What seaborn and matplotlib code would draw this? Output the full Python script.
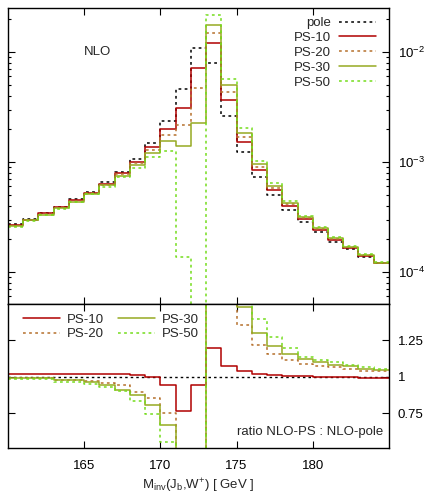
import numpy as np
import pandas as pd
import seaborn as sns
import matplotlib
matplotlib.use("Agg")
from matplotlib import pyplot as plt
from matplotlib.ticker import FixedLocator, FuncFormatter

## DATA ##
# bin edges of M_inv(J_b, W+) in GeV, 1 GeV bins
edges = np.arange(160, 186, 1)

# top panel: NLO distributions
pole = [2.72e-4, 3.05e-4, 3.46e-4, 3.93e-4, 4.58e-4, 5.37e-4, 6.53e-4, 8.16e-4,
        1.07e-3, 1.50e-3, 2.37e-3, 4.61e-3, 1.08e-2, 7.9e-3, 2.63e-3, 1.24e-3,
        7.36e-4, 5.0e-4, 3.66e-4, 2.87e-4, 2.30e-4, 1.89e-4, 1.61e-4, 1.37e-4, 1.20e-4]
ps10 = [2.66e-4, 3.00e-4, 3.42e-4, 3.88e-4, 4.49e-4, 5.26e-4, 6.31e-4, 7.89e-4,
        1.007e-3, 1.38e-3, 2.00e-3, 3.12e-3, 7.11e-3, 1.20e-2, 3.66e-3, 1.52e-3,
        8.46e-4, 5.56e-4, 3.98e-4, 3.03e-4, 2.43e-4, 1.95e-4, 1.65e-4, 1.40e-4, 1.20e-4]
ps20 = [2.63e-4, 2.97e-4, 3.37e-4, 3.82e-4, 4.42e-4, 5.19e-4, 6.18e-4, 7.78e-4,
        9.73e-4, 1.29e-3, 1.76e-3, 2.15e-3, 4.68e-3, 1.48e-2, 4.30e-3, 1.70e-3,
        9.06e-4, 5.83e-4, 4.12e-4, 3.12e-4, 2.46e-4, 2.00e-4, 1.68e-4, 1.42e-4, 1.21e-4]
ps30 = [2.62e-4, 2.95e-4, 3.33e-4, 3.78e-4, 4.37e-4, 5.15e-4, 6.14e-4, 7.50e-4,
        9.40e-4, 1.20e-3, 1.56e-3, 1.41e-3, 2.25e-3, 1.76e-2, 5.01e-3, 1.85e-3,
        9.59e-4, 6.10e-4, 4.27e-4, 3.18e-4, 2.49e-4, 2.02e-4, 1.70e-4, 1.43e-4, 1.22e-4]
ps50 = [2.59e-4, 2.92e-4, 3.30e-4, 3.74e-4, 4.33e-4, 5.08e-4, 5.95e-4, 7.35e-4,
        8.87e-4, 1.10e-3, 1.27e-3, 1.37e-4, 1e-7, 2.17e-2, 5.69e-3, 2.02e-3,
        1.03e-3, 6.44e-4, 4.42e-4, 3.25e-4, 2.55e-4, 2.07e-4, 1.72e-4, 1.45e-4, 1.23e-4]

# bottom panel: ratio NLO-PS : NLO-pole
r_ps10 = [1.02, 1.02, 1.02, 1.02, 1.02, 1.02, 1.02, 1.02, 1.013, 0.995, 0.945, 0.762,
          0.945, 1.20, 1.077, 1.041, 1.021, 1.011, 1.006, 1.002, 0.999, 0.999, 0.999,
          0.993, 0.993]
r_ps20 = [0.991, 0.991, 0.991, 0.98, 0.98, 0.968, 0.957, 0.941, 0.895, 0.854, 0.751, 0.3,
          0.3, 1.8, 1.8, 1.356, 1.219, 1.158, 1.116, 1.089, 1.075, 1.064, 1.055, 1.041, 1.041]
r_ps30 = [0.991, 0.991, 0.991, 0.975, 0.975, 0.964, 0.941, 0.911, 0.877, 0.808, 0.667, 0.2,
          0.2, 2.0, 2.0, 1.48, 1.303, 1.214, 1.158, 1.121, 1.098, 1.082, 1.071, 1.055, 1.046]
r_ps50 = [0.986, 0.986, 0.986, 0.964, 0.964, 0.95, 0.927, 0.900, 0.831, 0.747, 0.55, 0.03,
          0.0, 2.5, 2.5, 2.0, 1.397, 1.276, 1.201, 1.135, 1.112, 1.098, 1.082, 1.066, 1.055]

labels = ["pole", "PS-10", "PS-20", "PS-30", "PS-50"]
x_ticks = [165, 170, 175, 180]
ratio_ticks = [0.75, 1, 1.25]

## STYLE ##
sns.set_theme(style="ticks")
plt.rcParams['font.family'] = ['Liberation Sans', 'DejaVu Sans']
plt.rcParams['font.size'] = 9.5
plt.rcParams['axes.linewidth'] = 1.0

dot = (0, (1.8, 2.2))
styles = {
    "pole":  dict(color="black", linestyle=dot),
    "PS-10": dict(color="#b00000", linestyle="-"),
    "PS-20": dict(color="#b5702c", linestyle=dot),
    "PS-30": dict(color="#96aa22", linestyle="-"),
    "PS-50": dict(color="#74dd1c", linestyle=dot),
}


def step(ax, vals, name):
    # repeat last value so the final bin is closed at the right edge
    y = np.append(vals, vals[-1])
    sns.lineplot(x=edges, y=y, ax=ax, drawstyle="steps-post", lw=1.1,
                 label=name, sort=False, estimator=None, **styles[name])


def style_ticks(ax):
    ax.tick_params(which="both", direction="in", top=True, bottom=True,
                   left=True, right=True, labelleft=False, labelright=True,
                   colors="black", labelsize=9.5, width=0.8)
    ax.tick_params(which="major", length=5)
    ax.tick_params(which="minor", length=2.5)
    ax.tick_params(axis="y", pad=6.5)
    ax.tick_params(axis="x", pad=9)
    for s in ax.spines.values():
        s.set_visible(True)
        s.set_color("black")


fig = plt.figure(figsize=(4.29, 4.97), dpi=100)
ax1 = fig.add_axes([0.0186, 0.3883, 0.888, 0.5956])
ax2 = fig.add_axes([0.0186, 0.0986, 0.888, 0.2897])

# top panel
for name, vals in zip(labels, [pole, ps10, ps20, ps30, ps50]):
    step(ax1, vals, name)
ax1.set_yscale("log")
ax1.set_xlim(160, 185)
ax1.set_ylim(5.12e-5, 2.51e-2)
ax1.xaxis.set_major_locator(FixedLocator(x_ticks))
ax1.set_xticklabels([])
ax1.set_xlabel("")
ax1.set_ylabel("")
style_ticks(ax1)
ax1.tick_params(axis="x", labelbottom=False)
ax1.text(165.9, 1.0e-2, "NLO", ha="center", va="center", fontsize=9.5)
ax1.legend(loc="upper right", bbox_to_anchor=(0.965, 0.97), frameon=False,
           markerfirst=False, borderpad=0, borderaxespad=0, labelspacing=0.2,
           handlelength=2.8, handletextpad=0.6, fontsize=9.5)

# bottom panel
ax2.axhline(1, color="black", linestyle=dot, lw=1.0)
for name, vals in zip(labels[1:], [r_ps10, r_ps20, r_ps30, r_ps50]):
    step(ax2, vals, name)
ax2.set_xlim(160, 185)
ax2.set_ylim(0.51, 1.5)
ax2.xaxis.set_major_locator(FixedLocator(x_ticks))
ax2.yaxis.set_major_locator(FixedLocator(ratio_ticks))
ax2.yaxis.set_major_formatter(FuncFormatter(lambda v, p: "%g" % v))
ax2.set_ylabel("")
style_ticks(ax2)
ax2.set_xlabel(r"M$_\mathregular{inv}$(J$_\mathregular{b}$,W$^\mathregular{+}$) [ GeV ]",
               fontsize=9.5, labelpad=3.5)
ax2.text(0.984, 0.11, "ratio NLO-PS : NLO-pole", transform=ax2.transAxes,
         ha="right", va="center", fontsize=9.5)
ax2.legend(loc="upper left", bbox_to_anchor=(0.04, 0.935), ncol=2, frameon=False,
           borderpad=0, borderaxespad=0, labelspacing=0.2, handlelength=2.8,
           handletextpad=0.5, columnspacing=1.1, fontsize=9.5)

fig.savefig("out.png", dpi=100)
